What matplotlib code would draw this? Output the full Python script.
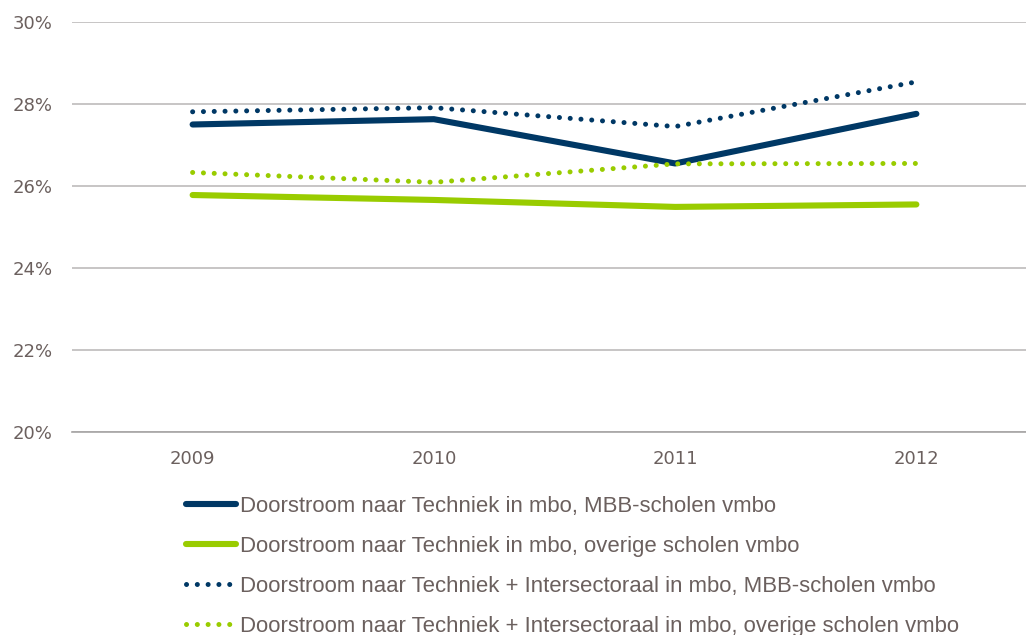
import matplotlib.pyplot as plt
from matplotlib.lines import Line2D

years = ["2009", "2010", "2011", "2012"]
techniek_mbb = [27.50, 27.63, 26.55, 27.76]
techniek_overig = [25.78, 25.66, 25.49, 25.55]
techniek_inter_mbb = [27.81, 27.91, 27.45, 28.54]
techniek_inter_overig = [26.33, 26.09, 26.54, 26.55]

labels = [
    "Doorstroom naar Techniek in mbo, MBB-scholen vmbo",
    "Doorstroom naar Techniek in mbo, overige scholen vmbo",
    "Doorstroom naar Techniek + Intersectoraal in mbo, MBB-scholen vmbo",
    "Doorstroom naar Techniek + Intersectoraal in mbo, overige scholen vmbo",
]

navy = "#003865"
green = "#99CC00"
text_col = "#6B605E"
grid_col = "#BDBBBB"

W, H = 1026, 635
fig = plt.figure(figsize=(W / 100, H / 100), dpi=100)
# axes run a little past the right edge, like the original
ax = fig.add_axes([72 / W, 1 - 432 / H, 965 / W, 410 / H])

x = list(range(len(years)))
dot = (0, (0.01, 2.15))
ax.plot(x, techniek_mbb, color=navy, lw=4.4, solid_capstyle="round", zorder=3)
ax.plot(x, techniek_overig, color=green, lw=4.4, solid_capstyle="round", zorder=3)
ax.plot(x, techniek_inter_mbb, color=navy, lw=3.6, linestyle=dot,
        dash_capstyle="round", zorder=3)
ax.plot(x, techniek_inter_overig, color=green, lw=3.6, linestyle=dot,
        dash_capstyle="round", zorder=3)

ax.set_xlim(-0.5, 3.5)
ax.set_ylim(20, 30)
ax.set_yticks([20, 22, 24, 26, 28, 30])
ax.set_yticklabels([f"{v}%" for v in [20, 22, 24, 26, 28, 30]])
ax.set_xticks(x)
ax.set_xticklabels(years)
ax.yaxis.grid(True, color=grid_col, lw=1.2)
ax.set_axisbelow(True)
for s in ["top", "right", "left"]:
    ax.spines[s].set_visible(False)
ax.spines["bottom"].set_color("#A6A4A4")
ax.spines["bottom"].set_linewidth(1.2)
ax.tick_params(length=0, labelsize=13, labelcolor=text_col,
               labelfontfamily="DejaVu Sans")
ax.tick_params(axis="y", pad=14)
ax.tick_params(axis="x", pad=13)

handles = [
    Line2D([], [], color=navy, lw=4.4, solid_capstyle="round"),
    Line2D([], [], color=green, lw=4.4, solid_capstyle="round"),
    Line2D([], [], color=navy, lw=3.6, linestyle=dot, dash_capstyle="round"),
    Line2D([], [], color=green, lw=3.6, linestyle=dot, dash_capstyle="round"),
]
leg = fig.legend(handles, labels, loc="upper left",
                 bbox_to_anchor=(186 / W, 1 - 496 / H), frameon=False,
                 handlelength=2.26, handletextpad=0.2, labelspacing=0.86,
                 borderpad=0, borderaxespad=0,
                 prop={"family": "Liberation Sans", "size": 15.9})
for t in leg.get_texts():
    t.set_color(text_col)

fig.savefig("out.png", dpi=100)
